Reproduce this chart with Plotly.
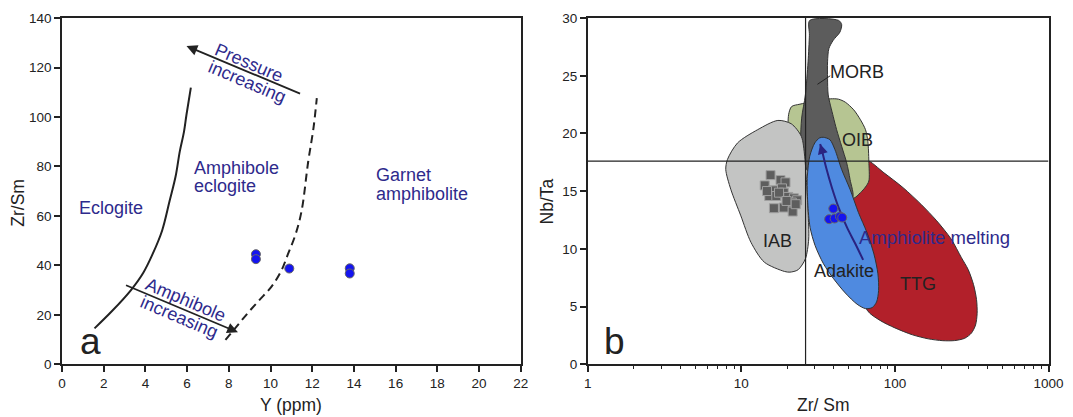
import numpy as np
import plotly.graph_objects as go

FONT = "Liberation Sans, Arial, sans-serif"
NAVY = "#2e2a8c"
INK = "#222222"

# ---------------- Panel a : Y (ppm) vs Zr/Sm ----------------
a_sample_Y = [9.3, 9.3, 10.9, 13.8, 13.8]
a_sample_ZrSm = [44.5, 42.5, 38.7, 38.8, 36.7]

eclogite_line_Y = [1.56, 2.4, 3.30, 3.9, 4.35, 4.8, 5.16, 5.45, 5.65, 5.85, 5.97, 6.18]
eclogite_line_ZrSm = [14.5, 21.5, 29.9, 37.0, 44.6, 54.0, 66.0, 76.0, 86.1, 94.0, 100.9, 111.9]

garnet_line_Y = [7.84, 8.35, 8.89, 9.45, 10.03, 10.5, 10.84, 11.2, 11.49, 11.81, 12.06, 12.22]
garnet_line_ZrSm = [9.8, 15.0, 20.5, 25.8, 31.2, 37.5, 44.6, 52.5, 62.0, 82.1, 95.5, 107.6]

pressure_arrow_Y = [11.49, 5.97]      # tail, tip
pressure_arrow_ZrSm = [109.2, 128.7]
amph_arrow_Y = [3.00, 8.44]
amph_arrow_ZrSm = [32.2, 12.9]

# ---------------- Panel b : Zr/Sm vs Nb/Ta ----------------
b_sample_ZrSm = [39.7, 37.3, 40.5, 43.9, 45.4]
b_sample_NbTa = [13.49, 12.57, 12.63, 12.80, 12.71]

iab_pts_ZrSm = [15.5, 18.0, 19.4, 14.2, 16.1, 18.4, 15.2, 16.9, 18.9, 20.2,
                22.0, 23.1, 21.3, 16.3, 18.9, 21.6, 17.6, 19.7, 14.7, 22.6]
iab_pts_NbTa = [16.39, 15.96, 15.76, 15.50, 15.07, 15.24, 14.58, 14.58, 14.87, 14.50,
                14.38, 14.21, 14.01, 13.52, 13.58, 13.23, 14.87, 14.15, 15.01, 13.87]

IAB_x = [17.29, 21.14, 24.59, 25.85, 26.52, 27.20, 27.47, 26.12, 23.38, 20.72,
         19.11, 14.13, 11.56, 9.93, 8.54, 7.92, 8.12, 9.45, 12.78, 17.29]
IAB_y = [21.13, 20.84, 19.75, 18.03, 16.02, 13.15, 10.85, 9.13, 8.18, 7.98,
         8.04, 8.84, 10.56, 12.86, 15.16, 16.88, 17.74, 19.18, 20.33, 21.13]

OIB_x = [20.31, 21.25, 24.1, 37.92, 43.0, 47.56, 53.93, 59.65, 64.34, 66.63,
         67.65, 67.65, 64.34, 59.65, 53.39, 41.93, 28.03, 21.79, 20.31, 20.31]
OIB_y = [21.62, 22.33, 22.54, 23.0, 22.97, 22.71, 22.05, 21.19, 20.33, 19.32,
         17.60, 15.88, 15.36, 14.87, 14.38, 15.30, 17.02, 18.46, 19.89, 21.62]

MORB_x = [27.89, 43.0, 45.0, 43.87, 39.67, 37.17, 36.43, 36.43, 36.79, 39.67,
          41.73, 45.0, 48.53, 51.03, 52.87, 34.29, 25.09, 24.35, 24.71, 26.12,
          27.20, 27.75, 27.89]
MORB_y = [29.80, 29.80, 29.45, 28.79, 28.08, 27.36, 26.21, 24.78, 23.34, 21.47,
          20.33, 18.89, 17.45, 16.02, 14.44, 15.0, 17.60, 19.32, 21.33, 23.34,
          26.21, 28.51, 29.80]

ADK_x = [34.12, 37.73, 40.69, 45.0, 51.03, 57.88, 65.65, 72.98, 77.5, 78.3,
         75.96, 71.15, 64.34, 56.73, 47.56, 39.87, 34.29, 30.23, 28.03, 27.06,
         26.92, 27.89, 30.08, 32.28, 34.12]
ADK_y = [19.67, 19.46, 18.60, 16.88, 15.16, 13.15, 11.43, 9.56, 7.84, 6.40,
         5.40, 4.91, 4.82, 5.20, 6.17, 7.41, 8.70, 10.28, 11.86, 14.01,
         16.31, 18.03, 19.18, 19.61, 19.67]

TTG_x = [66.63, 84.86, 113.1, 147.7, 187.1, 232.3, 270.2, 300.0, 325.0, 340.0,
         343.0, 335.0, 315.0, 285.0, 245.0, 205.0, 165.0, 130.0, 100.0, 80.0,
         65.98, 56.73, 52.6, 55.33, 62.73, 66.63, 66.63]
TTG_y = [17.60, 16.59, 15.30, 13.87, 12.43, 10.85, 9.27, 8.2, 6.9, 5.6,
         4.4, 3.4, 2.7, 2.25, 2.05, 2.04, 2.2, 2.55, 3.15, 3.8,
         4.68, 8.41, 14.15, 14.50, 15.24, 15.88, 17.60]

melt_curve_ZrSm = [62.1, 55.33, 48.76, 43.0, 38.89, 35.69, 33.6, 32.6]
melt_curve_NbTa = [9.04, 10.42, 11.86, 13.58, 15.30, 17.02, 18.46, 19.09]

ref_ZrSm = 26.2
ref_NbTa = 17.6

morb_pointer_ZrSm = [31.3, 37.9]
morb_pointer_NbTa = [24.26, 25.0]

# the photographed page is slightly rescaled; map target pixels to figure pixels
SX, CX = 0.983, 4.0
SY, CY = 0.962, 5.94
FIG_W, FIG_H = 1088, 430

def px(x):
    return ((x - CX) / SX) / FIG_W

def py(y):
    return 1 - ((y - CY) / SY) / FIG_H

fig = go.Figure()

# ---- panel a traces
fig.add_trace(go.Scatter(x=eclogite_line_Y, y=eclogite_line_ZrSm, mode="lines",
                         line=dict(color=INK, width=2, shape="spline"),
                         xaxis="x", yaxis="y", hoverinfo="skip"))
fig.add_trace(go.Scatter(x=garnet_line_Y, y=garnet_line_ZrSm, mode="lines",
                         line=dict(color=INK, width=2, shape="spline", dash="8px,5px"),
                         xaxis="x", yaxis="y", hoverinfo="skip"))
fig.add_trace(go.Scatter(x=a_sample_Y, y=a_sample_ZrSm, mode="markers",
                         marker=dict(size=9, color="#1414f0", line=dict(color="#666", width=1)),
                         xaxis="x", yaxis="y"))

# ---- panel b traces (fields)
def field(x, y, color):
    fig.add_trace(go.Scatter(x=x, y=y, mode="lines", fill="toself", fillcolor=color,
                             line=dict(color="#333", width=1, shape="spline", smoothing=0.8),
                             xaxis="x2", yaxis="y2", hoverinfo="skip"))

field(TTG_x, TTG_y, "#b2202a")
field(OIB_x, OIB_y, "#b6c592")
field(MORB_x, MORB_y, "#5c5c5c")
field(IAB_x, IAB_y, "#c3c4c3")
field(ADK_x, ADK_y, "#4f8ae0")

# reference lines
fig.add_trace(go.Scatter(x=[ref_ZrSm, ref_ZrSm], y=[0, 30], mode="lines",
                         line=dict(color=INK, width=1.2), xaxis="x2", yaxis="y2", hoverinfo="skip"))
fig.add_trace(go.Scatter(x=[1, 1000], y=[ref_NbTa, ref_NbTa], mode="lines",
                         line=dict(color=INK, width=1.2), xaxis="x2", yaxis="y2", hoverinfo="skip"))

fig.add_trace(go.Scatter(x=morb_pointer_ZrSm, y=morb_pointer_NbTa, mode="lines",
                         line=dict(color=INK, width=1), xaxis="x2", yaxis="y2", hoverinfo="skip"))

fig.add_trace(go.Scatter(x=melt_curve_ZrSm, y=melt_curve_NbTa, mode="lines",
                         line=dict(color="#2a2380", width=2, shape="spline"),
                         xaxis="x2", yaxis="y2", hoverinfo="skip"))

fig.add_trace(go.Scatter(x=iab_pts_ZrSm, y=iab_pts_NbTa, mode="markers",
                         marker=dict(symbol="square", size=9, color="#5e5e5e",
                                     line=dict(color="#a0a0a0", width=1)),
                         xaxis="x2", yaxis="y2"))
fig.add_trace(go.Scatter(x=b_sample_ZrSm, y=b_sample_NbTa, mode="markers",
                         marker=dict(size=9, color="#1414f0", line=dict(color="#666", width=1)),
                         xaxis="x2", yaxis="y2"))

ann = []
def txt(x, y, s, ref="", size=18, color=NAVY, angle=0, xanchor="center"):
    ann.append(dict(x=x, y=y, xref="x" + ref, yref="y" + ref, text=s, showarrow=False,
                    font=dict(family=FONT, size=size, color=color), textangle=angle,
                    xanchor=xanchor, yanchor="middle"))

# panel a labels
txt(2.36, 63.3, "Eclogite")
txt(6.25, 79.4, "Amphibole", xanchor="left")
txt(6.25, 72.1, "eclogite", xanchor="left")
txt(14.98, 76.4, "Garnet", xanchor="left")
txt(14.98, 68.7, "amphibolite", xanchor="left")
txt(8.98, 122.0, "Pressure", angle=23)
txt(8.89, 114.0, "increasing", angle=23)
txt(5.94, 25.8, "Amphibole", angle=23)
txt(5.62, 18.9, "increasing", angle=23)
txt(1.35, 9.0, "a", size=37, color=INK)

# arrows panel a
for (xs, ys) in [(pressure_arrow_Y, pressure_arrow_ZrSm), (amph_arrow_Y, amph_arrow_ZrSm)]:
    ann.append(dict(x=xs[1], y=ys[1], ax=xs[0], ay=ys[0], xref="x", yref="y",
                    axref="x", ayref="y", showarrow=True, arrowhead=2, arrowsize=1.2,
                    arrowwidth=1.8, arrowcolor=INK, text="", standoff=0))

# panel b labels (log axis -> log10 positions)
L = np.log10
txt(L(56.7), 25.29, "MORB", ref="2", color=INK)
txt(L(56.7), 19.46, "OIB", ref="2", color=INK)
txt(L(17.2), 10.65, "IAB", ref="2", color=INK)
txt(L(46.85), 8.12, "Adakite", ref="2", color=INK)
txt(L(140.4), 6.92, "TTG", ref="2", color=INK)
txt(L(56.7), 11.0, "Amphiolite melting", ref="2", size=18.5, color=NAVY, xanchor="left")
txt(L(1.50), 2.0, "b", ref="2", size=37, color=INK)

ann.append(dict(x=L(melt_curve_ZrSm[-1]), y=melt_curve_NbTa[-1],
                ax=L(melt_curve_ZrSm[-2]), ay=melt_curve_NbTa[-2],
                xref="x2", yref="y2", axref="x2", ayref="y2", showarrow=True,
                arrowhead=2, arrowsize=1.0, arrowwidth=2, arrowcolor="#2a2380",
                text="", standoff=0))

# axis titles
def ptxt(x, y, s, angle=0):
    ann.append(dict(x=px(x), y=py(y), xref="paper", yref="paper", text=s, showarrow=False,
                    font=dict(family=FONT, size=17.5, color=INK), textangle=angle,
                    xanchor="center", yanchor="middle"))

ptxt(291, 403, "Y (ppm)")
ptxt(18, 201, "Zr/Sm", angle=-90)
ptxt(824, 403, "Zr/ Sm")
ptxt(547, 200, "Nb/Ta", angle=-90)

axis_common = dict(showline=True, linecolor=INK, linewidth=1.5, mirror=True,
                   ticks="outside", ticklen=6, tickwidth=1.5, tickcolor=INK,
                   showgrid=False, zeroline=False,
                   tickfont=dict(family=FONT, size=13.5, color=INK))

ydom = [py(362), py(17)]
fig.update_layout(
    width=FIG_W, height=FIG_H, margin=dict(l=0, r=0, t=0, b=0),
    paper_bgcolor="white", plot_bgcolor="white", showlegend=False,
    xaxis=dict(domain=[px(62), px(521)], range=[0, 22], dtick=2, tick0=0, **axis_common),
    yaxis=dict(domain=ydom, range=[0, 140], dtick=20, tick0=0, anchor="x", **axis_common),
    xaxis2=dict(domain=[px(588), px(1049)], type="log", range=[0, 3],
                tickvals=[1, 10, 100, 1000], ticktext=["1", "10", "100", "1000"],
                minor=dict(ticks="outside", ticklen=3, tickwidth=1.2, tickcolor=INK,
                           tickvals=[2, 3, 4, 5, 6, 7, 8, 9, 20, 30, 40, 50, 60, 70, 80, 90,
                                     200, 300, 400, 500, 600, 700, 800, 900]),
                anchor="y2", **axis_common),
    yaxis2=dict(domain=ydom, range=[0, 30], dtick=5, tick0=0, anchor="x2", **axis_common),
    annotations=ann,
)

fig.write_html("out.html")
